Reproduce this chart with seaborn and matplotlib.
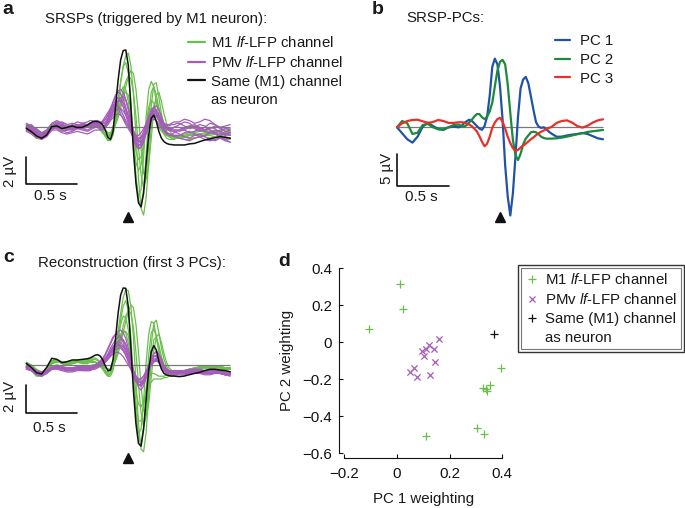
import numpy as np
import pandas as pd
import seaborn as sns
import matplotlib.pyplot as plt
from matplotlib.lines import Line2D
from matplotlib.patches import Rectangle

sns.set_style("white")
plt.rcParams["font.family"] = ["Liberation Sans", "DejaVu Sans"]
plt.rcParams["mathtext.fontset"] = "custom"
plt.rcParams["mathtext.rm"] = "Liberation Sans"
plt.rcParams["mathtext.it"] = "Liberation Sans:italic"
plt.rcParams["text.color"] = "#1a1a1a"
plt.rcParams["axes.labelcolor"] = "#1a1a1a"

W, H = 685, 508
FS = 10.8

GREEN = "#6abf4b"
PURPLE = "#a65cba"
BLACK = "#111111"
ZERO = "#7a7a7a"
PC_COLORS = ["#2153a5", "#1a8a3c", "#e8302a"]

# sample times (s) relative to the trigger spike
T = [-1.0, -0.95, -0.9, -0.85, -0.8, -0.75, -0.7, -0.65, -0.6, -0.55, -0.5, -0.45, -0.4,
     -0.375, -0.35, -0.325, -0.3, -0.275, -0.25, -0.225, -0.2, -0.175, -0.15, -0.125, -0.1, -0.075, -0.05, -0.025,
     0.0, 0.025, 0.05, 0.075, 0.1, 0.125, 0.15, 0.175, 0.2, 0.225, 0.25, 0.275, 0.3, 0.325, 0.35, 0.375, 0.4, 0.425, 0.45, 0.475,
     0.5, 0.55, 0.6, 0.65, 0.7, 0.75, 0.8, 0.85, 0.9, 0.95, 1.0]

# ---- panel a: spike-related slow potentials (uV)
M1_A = [
    [0.1, -0.1, -0.5, -0.7, -0.4, 0.1, 0.2, 0.0, -0.1, 0.05, 0.1, 0.0, 0.1]
    + [0.2, 0.3, 0.3, 0.2, 0.0, -0.3, -0.6, -0.8, -0.6, 0.0, 0.9, 2.0, 3.3, 4.5, 5.3, 5.5, 4.6, 2.5, -0.5, -3.8, -6.0, -6.5, -5.2, -2.6, 0.0, 1.6, 2.0, 1.4, 0.6, 0.0, -0.4, -0.6, -0.7, -0.7, -0.7]
    + [-0.7, -0.7, -0.6, -0.6, -0.5, -0.5, -0.4, -0.4, -0.5, -0.5, -0.6],
    [-0.1, -0.4, -0.8, -0.9, -0.6, -0.1, 0.1, -0.1, -0.2, 0.0, 0.1, 0.1, 0.2]
    + [0.3, 0.4, 0.4, 0.3, 0.1, -0.2, -0.5, -0.9, -1.0, -0.6, 0.4, 1.8, 3.4, 4.5, 4.8, 4.0, 2.0, -1.0, -3.8, -5.2, -4.6, -2.2, 0.8, 2.8, 3.4, 3.0, 1.9, 0.8, 0.0, -0.5, -0.8, -0.9, -0.9, -0.9, -0.8]
    + [-0.8, -0.7, -0.6, -0.5, -0.5, -0.4, -0.4, -0.3, -0.3, -0.4, -0.4],
    [0.0, -0.2, -0.6, -0.6, -0.3, 0.2, 0.3, 0.1, 0.0, 0.1, 0.2, 0.1, 0.2]
    + [0.3, 0.3, 0.2, 0.1, 0.0, -0.1, -0.3, -0.5, -0.5, -0.2, 0.3, 1.0, 1.8, 2.7, 3.4, 3.8, 3.6, 2.6, 0.8, -1.5, -3.5, -4.5, -3.8, -1.4, 1.5, 3.2, 3.3, 2.2, 1.0, 0.2, -0.3, -0.5, -0.6, -0.7, -0.7]
    + [-0.7, -0.7, -0.8, -0.8, -0.7, -0.6, -0.6, -0.7, -0.8, -0.8, -0.9],
    [0.2, 0.0, -0.4, -0.5, -0.2, 0.2, 0.2, -0.1, -0.2, 0.0, 0.0, -0.1, 0.0]
    + [0.1, 0.2, 0.2, 0.1, -0.1, -0.4, -0.7, -1.0, -0.9, -0.4, 0.5, 1.6, 2.6, 3.0, 2.8, 1.9, 0.5, -1.2, -2.6, -3.2, -2.8, -1.5, 0.2, 1.5, 2.0, 1.8, 1.1, 0.4, -0.1, -0.4, -0.6, -0.7, -0.8, -0.8, -0.8]
    + [-0.8, -0.7, -0.6, -0.5, -0.6, -0.7, -0.8, -0.7, -0.6, -0.5, -0.6],
    [-0.2, -0.3, -0.7, -0.8, -0.5, 0.0, 0.2, 0.1, -0.1, -0.1, 0.0, 0.0, 0.1]
    + [0.2, 0.2, 0.1, 0.0, -0.2, -0.4, -0.6, -0.7, -0.5, 0.0, 0.6, 1.3, 2.0, 2.4, 2.6, 2.4, 1.2, -1.0, -3.6, -5.4, -5.8, -4.6, -2.0, 0.8, 2.6, 3.0, 2.4, 1.4, 0.5, -0.1, -0.5, -0.7, -0.8, -0.8, -0.8]
    + [-0.8, -0.9, -0.9, -0.8, -0.7, -0.6, -0.5, -0.5, -0.6, -0.7, -0.8],
    [0.1, 0.1, -0.3, -0.5, -0.3, 0.0, 0.1, 0.2, 0.1, 0.0, -0.1, 0.0, 0.1]
    + [0.2, 0.2, 0.2, 0.1, 0.0, -0.1, -0.2, -0.4, -0.4, -0.2, 0.2, 0.7, 1.4, 2.2, 3.0, 3.7, 4.2, 4.0, 2.8, 0.8, -1.6, -3.4, -3.8, -2.8, -0.8, 1.2, 2.4, 2.6, 1.9, 1.0, 0.3, -0.2, -0.5, -0.6, -0.7]
    + [-0.7, -0.6, -0.5, -0.3, -0.2, -0.2, -0.3, -0.3, -0.2, -0.1, -0.1],
    [0.0, -0.2, -0.5, -0.7, -0.4, 0.0, 0.1, -0.1, -0.1, 0.1, 0.2, 0.1, 0.1]
    + [0.1, 0.1, 0.1, 0.0, -0.2, -0.4, -0.6, -0.7, -0.5, -0.1, 0.5, 1.2, 1.7, 2.0, 2.0, 1.5, 0.6, -0.6, -1.8, -2.4, -2.2, -1.2, 0.2, 1.2, 1.4, 1.1, 0.5, 0.0, -0.3, -0.5, -0.6, -0.6, -0.6, -0.6, -0.6]
    + [-0.6, -0.5, -0.4, -0.4, -0.3, -0.3, -0.4, -0.5, -0.5, -0.4, -0.3],
]
PMV_A = [
    [0.2, 0.0, -0.4, -0.6, -0.3, 0.2, 0.4, 0.2, 0.0, 0.2, 0.4, 0.3, 0.2]
    + [0.3, 0.4, 0.5, 0.5, 0.4, 0.3, 0.4, 0.7, 1.2, 1.8, 2.3, 2.7, 2.8, 2.6, 2.1, 1.3, 0.4, -0.4, -1.0, -1.3, -1.2, -0.7, 0.1, 0.8, 1.3, 1.5, 1.3, 0.8, 0.3, 0.0, -0.2, -0.2, -0.1, 0.0, 0.1]
    + [0.2, 0.4, 0.3, 0.0, -0.2, 0.0, 0.3, 0.2, -0.1, -0.3, -0.2],
    [-0.1, -0.3, -0.7, -0.8, -0.5, -0.1, 0.0, -0.2, -0.4, -0.3, -0.1, -0.2, -0.3]
    + [-0.2, -0.1, 0.0, 0.0, -0.1, -0.2, 0.0, 0.4, 0.9, 1.4, 1.8, 2.0, 1.9, 1.5, 0.9, 0.3, -0.3, -0.8, -1.2, -1.4, -1.3, -0.9, -0.3, 0.3, 0.7, 0.9, 0.8, 0.5, 0.1, -0.2, -0.4, -0.5, -0.5, -0.4, -0.4]
    + [-0.5, -0.7, -0.8, -0.6, -0.5, -0.7, -0.9, -1.0, -0.8, -0.9, -1.1],
    [0.1, 0.2, -0.2, -0.4, -0.2, 0.3, 0.5, 0.3, 0.2, 0.3, 0.2, 0.0, 0.1]
    + [0.2, 0.3, 0.4, 0.3, 0.2, 0.1, 0.1, 0.3, 0.6, 0.9, 1.2, 1.4, 1.4, 1.2, 0.9, 0.5, 0.1, -0.3, -0.6, -0.8, -0.8, -0.5, -0.1, 0.4, 0.8, 1.0, 1.0, 0.8, 0.5, 0.3, 0.2, 0.2, 0.3, 0.4, 0.4]
    + [0.4, 0.6, 0.5, 0.3, 0.4, 0.6, 0.5, 0.2, 0.0, 0.1, 0.2],
    [-0.3, -0.5, -0.8, -0.7, -0.3, 0.0, -0.1, -0.3, -0.2, 0.0, 0.1, -0.1, -0.2]
    + [-0.1, 0.0, 0.1, 0.1, 0.0, 0.0, 0.2, 0.6, 1.1, 1.6, 2.0, 2.2, 2.1, 1.8, 1.2, 0.5, -0.2, -0.9, -1.4, -1.6, -1.5, -1.0, -0.3, 0.4, 1.0, 1.2, 1.1, 0.7, 0.2, -0.2, -0.4, -0.5, -0.6, -0.6, -0.6]
    + [-0.6, -0.4, -0.3, -0.5, -0.7, -0.6, -0.4, -0.5, -0.7, -0.9, -0.8],
    [0.3, 0.1, -0.3, -0.5, -0.4, 0.0, 0.3, 0.4, 0.2, 0.0, 0.1, 0.3, 0.4]
    + [0.5, 0.5, 0.4, 0.3, 0.3, 0.4, 0.6, 0.9, 1.3, 1.6, 1.7, 1.6, 1.3, 0.9, 0.5, 0.1, -0.2, -0.5, -0.6, -0.6, -0.4, -0.1, 0.3, 0.7, 1.0, 1.1, 1.0, 0.7, 0.4, 0.2, 0.1, 0.1, 0.2, 0.2, 0.3]
    + [0.3, 0.1, -0.1, 0.0, 0.2, 0.1, -0.2, -0.4, -0.3, -0.1, -0.2],
    [0.0, -0.2, -0.6, -0.9, -0.7, -0.2, 0.1, 0.0, -0.2, -0.2, 0.0, 0.1, 0.0]
    + [0.0, 0.1, 0.2, 0.2, 0.1, 0.1, 0.2, 0.4, 0.7, 1.1, 1.5, 1.9, 2.2, 2.3, 2.0, 1.4, 0.6, -0.2, -0.8, -1.1, -1.1, -0.8, -0.2, 0.5, 1.1, 1.5, 1.6, 1.3, 0.8, 0.3, 0.0, -0.2, -0.3, -0.3, -0.3]
    + [-0.2, 0.0, 0.1, -0.1, -0.3, -0.2, 0.0, -0.1, -0.4, -0.6, -0.5],
    [-0.2, -0.4, -0.5, -0.6, -0.4, -0.2, -0.2, -0.4, -0.5, -0.4, -0.3, -0.4, -0.5]
    + [-0.4, -0.3, -0.2, -0.2, -0.2, -0.1, 0.0, 0.2, 0.5, 0.7, 0.9, 1.0, 0.9, 0.7, 0.4, 0.1, -0.2, -0.6, -0.9, -1.0, -0.9, -0.6, -0.2, 0.2, 0.5, 0.6, 0.5, 0.2, -0.1, -0.3, -0.5, -0.6, -0.6, -0.7, -0.7]
    + [-0.8, -0.9, -1.0, -0.8, -0.7, -0.9, -1.0, -0.9, -0.8, -1.0, -1.1],
    [0.1, -0.1, -0.5, -0.7, -0.5, 0.0, 0.2, 0.1, -0.1, 0.0, 0.2, 0.2, 0.1]
    + [0.1, 0.2, 0.3, 0.3, 0.3, 0.4, 0.6, 0.9, 1.4, 1.9, 2.4, 2.6, 2.5, 2.1, 1.5, 0.8, 0.0, -0.7, -1.2, -1.5, -1.5, -1.1, -0.4, 0.3, 0.9, 1.2, 1.2, 0.9, 0.5, 0.1, -0.1, -0.2, -0.2, -0.2, -0.2]
    + [-0.3, -0.2, 0.0, 0.1, -0.1, -0.3, -0.4, -0.2, -0.3, -0.5, -0.6],
    [-0.2, -0.3, -0.6, -0.8, -0.6, -0.2, 0.1, 0.2, 0.0, -0.2, -0.1, 0.0, 0.1]
    + [0.2, 0.2, 0.2, 0.2, 0.3, 0.5, 0.8, 1.1, 1.4, 1.6, 1.6, 1.4, 1.0, 0.6, 0.2, -0.1, -0.4, -0.7, -0.9, -0.9, -0.7, -0.3, 0.2, 0.7, 1.1, 1.3, 1.2, 0.9, 0.5, 0.2, 0.0, -0.1, -0.1, 0.0, 0.0]
    + [0.0, -0.2, -0.4, -0.3, -0.1, 0.0, -0.2, -0.4, -0.6, -0.5, -0.4],
    [0.0, 0.1, -0.1, -0.4, -0.4, -0.1, 0.2, 0.1, -0.1, -0.1, 0.1, 0.2, 0.2]
    + [0.1, 0.0, 0.0, 0.1, 0.2, 0.3, 0.3, 0.5, 0.8, 1.2, 1.6, 1.9, 2.0, 1.8, 1.4, 0.9, 0.3, -0.3, -0.7, -1.0, -1.1, -0.9, -0.5, 0.0, 0.5, 0.8, 0.9, 0.8, 0.5, 0.2, 0.0, -0.1, -0.2, -0.2, -0.2]
    + [-0.2, -0.1, 0.1, 0.2, 0.0, -0.2, -0.1, 0.1, 0.0, -0.3, -0.4],
]
SAME_A = ([-0.07, -0.32, -0.64, -0.81, -0.57, 0.05, 0.1, -0.1, 0.0, 0.1, -0.02, 0.0, 0.17]
          + [0.3, 0.4, 0.44, 0.42, 0.35, 0.17, -0.2, -0.74, -0.89, -0.32, 1.53, 3.5, 5.0, 5.68, 5.73, 4.6, 1.53, -1.68, -4.15, -5.6, -5.9, -4.9, -2.67, -0.57, 0.67, 0.91, 0.42, -0.32, -0.81, -1.06, -1.19, -1.26, -1.28, -1.31, -1.31]
          + [-1.31, -1.31, -1.23, -1.19, -1.06, -0.94, -0.86, -0.77, -0.69, -0.74, -0.81])

# ---- panel b: principal components (uV)
PC1 = ([0.0, -0.95, -1.9, -2.43, -1.48, 0.1, 0.74, 0.2, -0.26, -0.42, 0.0, 0.1, 0.0]
       + [0.2, 0.63, 0.95, 1.2, 1.05, 0.63, 0.2, -0.2, -0.4, 0.2, 1.7, 5.0, 9.6, 10.9, 10.0, 6.5, 1.2, -6.0, -11.0, -14.0, -10.5, -4.7, 1.7, 6.2, 7.6, 8.0, 7.0, 4.9, 2.75, 0.8, 0.1, -0.1, 0.0, -0.3, -0.7]
       + [-1.0, -1.5, -1.48, -1.3, -1.16, -1.06, -0.9, -1.06, -1.4, -1.75, -1.9])
PC2 = ([0.0, 1.0, 0.63, -1.06, -0.85, 0.37, 0.53, 0.0, -0.32, -0.32, 0.0, 0.37, 0.42]
       + [0.2, 0.1, 0.32, 0.74, 1.16, 1.7, 2.1, 2.1, 1.6, 1.3, 1.7, 2.5, 3.9, 6.5, 9.0, 10.4, 10.7, 10.0, 6.8, 2.3, -2.0, -4.4, -5.2, -4.2, -2.7, -1.8, -1.3, -0.8, -0.7, -0.8, -1.1, -1.5, -1.7, -1.8, -1.8]
       + [-1.8, -1.75, -1.64, -1.48, -1.3, -1.1, -0.95, -0.74, -0.63, -0.53, -0.42])
PC3 = ([0.0, 0.63, 1.0, 1.16, 1.2, 0.95, 0.7, 0.85, 1.16, 1.0, 0.7, 0.7, 0.8]
       + [0.8, 0.75, 0.6, 0.45, 0.2, -0.2, -0.65, -1.4, -2.3, -3.0, -2.6, -1.5, -0.1, 0.75, 1.3, 1.5, 0.9, -0.2, -1.5, -2.5, -3.3, -3.75, -3.6, -3.2, -2.9, -2.6, -2.25, -1.9, -1.6, -1.25, -0.95, -0.7, -0.5, -0.3, -0.1]
       + [0.05, 0.7, 1.0, 1.1, 0.75, 0.2, -0.05, 0.25, 0.75, 1.1, 1.27])
PC_NAMES = ["PC 1", "PC 2", "PC 3"]

# ---- panel c: reconstruction from first 3 PCs (uV)
M1_C = [
    [0.1, -0.2, -0.6, -0.7, -0.3, 0.3, 0.4, 0.2, 0.2, 0.3, 0.3, 0.3, 0.4]
    + [0.4, 0.5, 0.5, 0.4, 0.2, -0.1, -0.4, -0.5, -0.3, 0.3, 1.2, 2.4, 3.7, 4.8, 5.4, 5.3, 4.2, 2.0, -1.2, -4.2, -6.0, -6.2, -4.8, -2.2, 0.4, 1.8, 2.0, 1.4, 0.6, 0.0, -0.3, -0.5, -0.5, -0.5, -0.5]
    + [-0.5, -0.4, -0.3, -0.2, -0.2, -0.1, -0.1, -0.1, -0.1, -0.2, -0.2],
    [-0.1, -0.4, -0.8, -0.8, -0.4, 0.2, 0.3, 0.1, 0.0, 0.1, 0.2, 0.2, 0.3]
    + [0.3, 0.4, 0.4, 0.3, 0.1, -0.2, -0.5, -0.8, -0.8, -0.4, 0.5, 1.8, 3.2, 4.2, 4.6, 3.9, 2.0, -0.8, -3.4, -4.9, -4.6, -2.6, 0.2, 2.2, 3.1, 3.0, 2.0, 0.9, 0.1, -0.4, -0.6, -0.7, -0.7, -0.6, -0.6]
    + [-0.6, -0.5, -0.4, -0.3, -0.3, -0.2, -0.2, -0.2, -0.3, -0.3, -0.3],
    [0.0, -0.2, -0.5, -0.6, -0.2, 0.3, 0.3, 0.1, 0.1, 0.2, 0.3, 0.2, 0.3]
    + [0.3, 0.3, 0.2, 0.1, 0.0, -0.1, -0.2, -0.3, -0.3, -0.1, 0.4, 1.1, 1.9, 2.8, 3.5, 3.9, 3.7, 2.7, 0.9, -1.4, -3.4, -4.4, -3.7, -1.4, 1.4, 3.0, 3.2, 2.3, 1.2, 0.4, -0.1, -0.4, -0.5, -0.5, -0.5]
    + [-0.5, -0.5, -0.4, -0.3, -0.3, -0.2, -0.2, -0.2, -0.2, -0.3, -0.3],
    [0.2, 0.0, -0.4, -0.6, -0.3, 0.2, 0.3, 0.1, 0.0, 0.1, 0.2, 0.1, 0.1]
    + [0.2, 0.2, 0.2, 0.1, 0.0, -0.2, -0.5, -0.7, -0.6, -0.2, 0.6, 1.5, 2.2, 2.5, 2.3, 1.6, 0.6, -0.6, -1.9, -2.8, -3.0, -2.6, -2.0, -1.5, -1.2, -1.0, -1.0, -1.0, -1.0, -0.9, -0.9, -0.8, -0.8, -0.7, -0.7]
    + [-0.6, -0.5, -0.4, -0.3, -0.2, -0.2, -0.1, -0.1, -0.1, -0.2, -0.2],
    [-0.2, -0.4, -0.7, -0.7, -0.4, 0.1, 0.3, 0.2, 0.1, 0.1, 0.2, 0.2, 0.3]
    + [0.3, 0.3, 0.2, 0.1, -0.1, -0.3, -0.5, -0.6, -0.4, 0.1, 0.7, 1.4, 2.0, 2.3, 2.4, 2.1, 1.0, -1.2, -3.6, -5.2, -5.6, -4.4, -1.9, 0.7, 2.3, 2.6, 2.0, 1.1, 0.3, -0.2, -0.5, -0.6, -0.6, -0.6, -0.6]
    + [-0.6, -0.5, -0.4, -0.3, -0.3, -0.2, -0.2, -0.2, -0.2, -0.3, -0.3],
    [0.1, 0.0, -0.3, -0.5, -0.3, 0.1, 0.2, 0.2, 0.2, 0.2, 0.2, 0.2, 0.2]
    + [0.2, 0.2, 0.2, 0.1, 0.0, -0.1, -0.2, -0.3, -0.3, -0.1, 0.3, 0.8, 1.5, 2.3, 3.1, 3.8, 4.3, 4.1, 2.9, 0.9, -1.5, -3.2, -3.6, -2.8, -0.9, 1.0, 2.0, 2.2, 1.6, 0.8, 0.2, -0.2, -0.4, -0.5, -0.5]
    + [-0.5, -0.4, -0.3, -0.2, -0.1, -0.1, -0.1, -0.1, -0.1, -0.2, -0.2],
    [0.0, -0.3, -0.6, -0.7, -0.4, 0.1, 0.3, 0.2, 0.1, 0.2, 0.3, 0.2, 0.2]
    + [0.2, 0.2, 0.2, 0.1, -0.1, -0.3, -0.6, -0.8, -0.6, -0.1, 0.7, 1.8, 2.9, 3.5, 3.4, 2.5, 1.0, -0.9, -2.8, -4.0, -4.0, -3.0, -1.7, -0.9, -0.6, -0.6, -0.7, -0.8, -0.8, -0.8, -0.7, -0.7, -0.6, -0.6, -0.6]
    + [-0.5, -0.4, -0.3, -0.3, -0.2, -0.2, -0.2, -0.2, -0.2, -0.2, -0.3],
]
PMV_C = [
    [-0.1, -0.3, -0.6, -0.7, -0.5, -0.2, -0.1, -0.2, -0.3, -0.3, -0.2, -0.2, -0.2]
    + [-0.2, -0.1, 0.0, 0.1, 0.2, 0.4, 0.7, 1.1, 1.5, 1.9, 2.2, 2.4, 2.5, 2.3, 1.9, 1.2, 0.4, -0.4, -1.1, -1.6, -1.8, -1.5, -0.9, -0.2, 0.4, 0.8, 0.9, 0.7, 0.3, -0.1, -0.3, -0.4, -0.5, -0.5, -0.5]
    + [-0.5, -0.6, -0.6, -0.5, -0.5, -0.5, -0.6, -0.6, -0.6, -0.7, -0.7],
    [-0.2, -0.3, -0.5, -0.6, -0.5, -0.3, -0.2, -0.3, -0.4, -0.4, -0.3, -0.3, -0.3]
    + [-0.3, -0.2, -0.1, 0.0, 0.1, 0.3, 0.5, 0.8, 1.2, 1.5, 1.8, 2.0, 2.0, 1.8, 1.4, 0.8, 0.2, -0.4, -0.9, -1.2, -1.3, -1.1, -0.6, -0.1, 0.3, 0.6, 0.6, 0.4, 0.1, -0.2, -0.4, -0.5, -0.5, -0.5, -0.5]
    + [-0.5, -0.5, -0.4, -0.4, -0.5, -0.5, -0.4, -0.4, -0.5, -0.6, -0.6],
    [0.0, -0.2, -0.5, -0.6, -0.4, -0.1, 0.0, -0.1, -0.2, -0.2, -0.1, -0.1, -0.1]
    + [-0.1, 0.0, 0.0, 0.1, 0.2, 0.3, 0.5, 0.7, 1.0, 1.3, 1.5, 1.6, 1.6, 1.4, 1.1, 0.6, 0.1, -0.4, -0.8, -1.0, -1.0, -0.8, -0.4, 0.0, 0.4, 0.6, 0.7, 0.5, 0.2, -0.1, -0.3, -0.4, -0.4, -0.4, -0.4]
    + [-0.4, -0.4, -0.3, -0.3, -0.4, -0.4, -0.3, -0.3, -0.4, -0.5, -0.5],
    [-0.3, -0.4, -0.7, -0.8, -0.6, -0.3, -0.2, -0.3, -0.4, -0.4, -0.3, -0.4, -0.4]
    + [-0.4, -0.3, -0.3, -0.2, -0.1, 0.0, 0.2, 0.4, 0.7, 0.9, 1.1, 1.2, 1.2, 1.0, 0.7, 0.3, -0.1, -0.6, -1.1, -1.4, -1.5, -1.3, -0.9, -0.4, 0.0, 0.3, 0.4, 0.2, -0.1, -0.4, -0.6, -0.6, -0.7, -0.7, -0.7]
    + [-0.7, -0.7, -0.6, -0.6, -0.6, -0.7, -0.7, -0.6, -0.6, -0.7, -0.8],
    [-0.1, -0.2, -0.4, -0.5, -0.4, -0.2, -0.1, -0.2, -0.2, -0.2, -0.2, -0.2, -0.2]
    + [-0.2, -0.2, -0.1, 0.0, 0.0, 0.1, 0.2, 0.4, 0.6, 0.8, 0.9, 0.9, 0.8, 0.6, 0.3, 0.0, -0.3, -0.6, -0.9, -1.0, -1.0, -0.8, -0.5, -0.2, 0.1, 0.3, 0.3, 0.2, 0.0, -0.2, -0.3, -0.4, -0.4, -0.4, -0.4]
    + [-0.4, -0.4, -0.4, -0.3, -0.3, -0.4, -0.4, -0.4, -0.4, -0.5, -0.5],
    [-0.2, -0.4, -0.6, -0.7, -0.5, -0.2, -0.1, -0.2, -0.3, -0.3, -0.2, -0.2, -0.2]
    + [-0.2, -0.1, 0.0, 0.1, 0.2, 0.3, 0.4, 0.6, 0.9, 1.2, 1.5, 1.7, 1.8, 1.8, 1.5, 1.0, 0.3, -0.4, -1.0, -1.4, -1.5, -1.3, -0.8, -0.2, 0.4, 0.8, 1.0, 0.8, 0.4, 0.0, -0.3, -0.5, -0.5, -0.6, -0.6]
    + [-0.6, -0.6, -0.5, -0.5, -0.5, -0.6, -0.6, -0.5, -0.5, -0.6, -0.7],
    [-0.3, -0.4, -0.6, -0.6, -0.5, -0.3, -0.3, -0.4, -0.5, -0.5, -0.4, -0.4, -0.4]
    + [-0.4, -0.3, -0.2, -0.1, 0.0, 0.2, 0.4, 0.7, 1.0, 1.3, 1.5, 1.5, 1.4, 1.1, 0.7, 0.2, -0.3, -0.8, -1.2, -1.4, -1.4, -1.1, -0.7, -0.3, 0.1, 0.3, 0.4, 0.2, -0.1, -0.3, -0.5, -0.6, -0.6, -0.6, -0.6]
    + [-0.6, -0.6, -0.5, -0.5, -0.6, -0.6, -0.6, -0.5, -0.6, -0.7, -0.7],
    [-0.2, -0.3, -0.6, -0.7, -0.5, -0.3, -0.2, -0.3, -0.3, -0.3, -0.3, -0.3, -0.3]
    + [-0.2, -0.1, 0.0, 0.1, 0.3, 0.5, 0.8, 1.2, 1.6, 2.0, 2.2, 2.2, 2.0, 1.6, 1.1, 0.5, -0.1, -0.6, -1.1, -1.4, -1.5, -1.2, -0.7, -0.2, 0.3, 0.6, 0.7, 0.5, 0.2, -0.1, -0.3, -0.4, -0.5, -0.5, -0.5]
    + [-0.5, -0.5, -0.5, -0.4, -0.4, -0.5, -0.5, -0.5, -0.5, -0.6, -0.6],
    [-0.1, -0.3, -0.5, -0.6, -0.5, -0.2, -0.1, -0.2, -0.3, -0.3, -0.2, -0.2, -0.3]
    + [-0.3, -0.2, -0.2, -0.1, 0.0, 0.2, 0.3, 0.5, 0.8, 1.0, 1.3, 1.4, 1.4, 1.3, 1.0, 0.6, 0.1, -0.4, -0.8, -1.1, -1.2, -1.0, -0.6, -0.2, 0.2, 0.4, 0.5, 0.4, 0.1, -0.2, -0.4, -0.5, -0.5, -0.5, -0.5]
    + [-0.5, -0.5, -0.5, -0.5, -0.5, -0.5, -0.5, -0.5, -0.5, -0.6, -0.6],
    [-0.2, -0.4, -0.6, -0.8, -0.6, -0.3, -0.2, -0.3, -0.4, -0.4, -0.3, -0.3, -0.3]
    + [-0.3, -0.2, -0.1, 0.0, 0.1, 0.2, 0.4, 0.6, 0.9, 1.1, 1.3, 1.4, 1.3, 1.1, 0.8, 0.4, -0.1, -0.5, -0.9, -1.2, -1.3, -1.2, -0.8, -0.4, 0.0, 0.2, 0.3, 0.2, 0.0, -0.2, -0.4, -0.5, -0.6, -0.6, -0.6]
    + [-0.6, -0.6, -0.6, -0.5, -0.5, -0.6, -0.6, -0.6, -0.6, -0.7, -0.7],
]
SAME_C = ([0.12, -0.17, -0.55, -0.64, -0.17, 0.48, 0.4, 0.17, 0.24, 0.36, 0.36, 0.4, 0.45]
          + [0.5, 0.6, 0.7, 0.74, 0.64, 0.36, -0.07, -0.4, -0.36, 0.36, 1.9, 3.7, 5.0, 5.5, 5.48, 4.17, 1.3, -1.8, -4.2, -5.6, -5.8, -4.6, -2.5, -0.36, 0.95, 1.38, 1.07, 0.24, -0.3, -0.6, -0.71, -0.76, -0.79, -0.79, -0.81]
          + [-0.83, -0.79, -0.69, -0.6, -0.52, -0.4, -0.31, -0.31, -0.36, -0.4, -0.48])

# ---- panel d: PC weightings per channel
M1_W1 = [0.012, 0.025, -0.104, 0.395, 0.354, 0.327, 0.337, 0.342, 0.304, 0.329, 0.111]
M1_W2 = [0.316, 0.18, 0.072, -0.14, -0.229, -0.245, -0.252, -0.265, -0.463, -0.495, -0.508]
PMV_W1 = [0.161, 0.124, 0.142, 0.109, 0.097, 0.105, 0.145, 0.067, 0.05, 0.078, 0.127]
PMV_W2 = [0.018, -0.014, -0.036, -0.038, -0.049, -0.072, -0.108, -0.139, -0.162, -0.185, -0.176]
SAME_W1 = [0.37]
SAME_W2 = [0.045]

LABELS = [r"M1 $\mathit{lf}$-LFP channel", r"PMv $\mathit{lf}$-LFP channel",
          "Same (M1) channel", "as neuron"]


def px_axes(fig, box, x0, sx, y0, sy):
    # box in pixels (left, top, right, bottom); x0/y0 = pixel of data origin, sx/sy = px per unit
    l, t, r, b = box
    ax = fig.add_axes([l / W, 1 - b / H, (r - l) / W, (b - t) / H])
    ax.axis("off")
    lims = ((l - x0) / sx, (r - x0) / sx, (y0 - b) / sy, (y0 - t) / sy)
    return ax, lims


def ftext(fig, x, y, s, **kw):
    kw.setdefault("fontsize", FS)
    kw.setdefault("va", "center")
    fig.text(x / W, 1 - y / H, s, **kw)


def long_frame(traces, group):
    parts = [pd.DataFrame({"t": T, "v": tr, "channel": f"{group}{i}"}) for i, tr in enumerate(traces)]
    return pd.concat(parts, ignore_index=True)


def draw_srsp(ax, lims, m1, pmv, same, bar_v, tri_v):
    sns.lineplot(data=long_frame(m1, "m1"), x="t", y="v", units="channel", estimator=None,
                 color=GREEN, lw=0.9, ax=ax, legend=False)
    sns.lineplot(data=long_frame(pmv, "pmv"), x="t", y="v", units="channel", estimator=None,
                 color=PURPLE, lw=0.9, ax=ax, legend=False)
    ax.hlines(0, T[0], T[-1], color=ZERO, lw=0.9, zorder=3)
    sns.lineplot(x=T, y=same, color=BLACK, lw=1.1, ax=ax, zorder=4)
    # scale bars: 0.5 s, 2 uV
    ax.plot([-1.0, -1.0, -0.5], [bar_v + 2, bar_v, bar_v], color=BLACK, lw=1.2, clip_on=False)
    ax.plot([0.0], [tri_v], marker="^", color=BLACK, markersize=7.5, clip_on=False)
    ax.set_xlim(lims[0], lims[1])
    ax.set_ylim(lims[2], lims[3])
    ax.axis("off")


def srsp_legend(ax, x, y):
    handles = [Line2D([], [], color=GREEN, lw=1.6), Line2D([], [], color=PURPLE, lw=1.6),
               Line2D([], [], color=BLACK, lw=1.6), Line2D([], [], ls="none")]
    ax.legend(handles, LABELS, loc="upper left", bbox_to_anchor=(x / W, 1 - y / H),
              bbox_transform=ax.figure.transFigure, frameon=False, fontsize=FS,
              handlelength=1.15, handletextpad=0.4, labelspacing=0.32,
              borderpad=0, borderaxespad=0)


fig = plt.figure(figsize=(W / 100, H / 100), dpi=100)

# panel a
ax_a, lim_a = px_axes(fig, (0, 30, 245, 232), 128.3, 102, 127.3, 13.5)
draw_srsp(ax_a, lim_a, M1_A, PMV_A, SAME_A, -4.2, -6.64)
srsp_legend(ax_a, 188, 35)
ftext(fig, 8, 9, "a", fontsize=14, fontweight="bold", ha="center")
ftext(fig, 45, 19, "SRSPs (triggered by M1 neuron):")
ftext(fig, 50.5, 195.5, "0.5 s", ha="center")
ftext(fig, 10, 171, "2 µV", ha="center", rotation=90)

# panel b
ax_b, lim_b = px_axes(fig, (345, 30, 615, 232), 500, 103, 127.3, 6.3)
ax_b.hlines(0, T[0], T[-1], color=ZERO, lw=0.9, zorder=1)
for vals, name, col in zip([PC1, PC2, PC3], PC_NAMES, PC_COLORS):
    sns.lineplot(x=T, y=vals, color=col, lw=1.6, ax=ax_b, label=name, zorder=2)
ax_b.plot([-1.0, -1.0, -0.5], [-9.3 + 5, -9.3, -9.3], color=BLACK, lw=1.2, clip_on=False)
ax_b.plot([0.0], [-14.3], marker="^", color=BLACK, markersize=7.5, clip_on=False)
ax_b.set_xlim(lim_b[0], lim_b[1])
ax_b.set_ylim(lim_b[2], lim_b[3])
ax_b.axis("off")
ax_b.legend(loc="upper left", bbox_to_anchor=(555 / W, 1 - 34 / H), bbox_transform=fig.transFigure,
            frameon=False, fontsize=FS, handlelength=1.0, handletextpad=0.65, labelspacing=0.32,
            borderpad=0, borderaxespad=0)
ftext(fig, 378, 10, "b", fontsize=14, fontweight="bold", ha="center")
ftext(fig, 406.7, 18, "SRSP-PCs:")
ftext(fig, 421.7, 196.7, "0.5 s", ha="center")
ftext(fig, 386.5, 168, "5 µV", ha="center", rotation=90)

# panel c
ax_c, lim_c = px_axes(fig, (0, 272, 245, 472), 128.3, 102, 365, 14)
draw_srsp(ax_c, lim_c, M1_C, PMV_C, SAME_C, -3.45, -6.64)
ftext(fig, 9, 258, "c", fontsize=14, fontweight="bold", ha="center")
ftext(fig, 38.3, 263, "Reconstruction (first 3 PCs):")
ftext(fig, 49, 428, "0.5 s", ha="center")
ftext(fig, 10, 396, "2 µV", ha="center", rotation=90)

# panel d
ax_d = fig.add_axes([344 / W, 1 - 453.3 / H, (502.3 - 344) / W, (453.3 - 268.3) / H])
sns.scatterplot(x=PMV_W1, y=PMV_W2, marker="x", color=PURPLE, s=20, linewidth=0.9, ax=ax_d, clip_on=False)
sns.scatterplot(x=M1_W1, y=M1_W2, marker="+", color=GREEN, s=30, linewidth=0.9, ax=ax_d, clip_on=False)
sns.scatterplot(x=SAME_W1, y=SAME_W2, marker="+", color=BLACK, s=30, linewidth=0.9, ax=ax_d, clip_on=False)
ax_d.set_xlim(-0.2, 0.4)
ax_d.set_ylim(-0.6, 0.4)
ax_d.set_xticks([-0.2, 0, 0.2, 0.4])
ax_d.set_yticks([-0.6, -0.4, -0.2, 0, 0.2, 0.4])
ax_d.set_xticklabels(["−0.2", "0", "0.2", "0.4"])
ax_d.set_yticklabels(["−0.6", "−0.4", "−0.2", "0", "0.2", "0.4"])
sns.despine(ax=ax_d, offset=3.6, trim=True)
for sp in ("left", "bottom"):
    ax_d.spines[sp].set_color(BLACK)
    ax_d.spines[sp].set_linewidth(0.8)
ax_d.tick_params(axis="both", direction="in", length=3, width=0.8, colors=BLACK,
                 labelsize=FS, bottom=True, left=True)
ax_d.tick_params(axis="x", pad=6)
ax_d.tick_params(axis="y", pad=5)
ax_d.set_xlabel("PC 1 weighting", fontsize=FS, labelpad=8)
ax_d.set_ylabel("PC 2 weighting", fontsize=FS, labelpad=6)
d_handles = [Line2D([], [], ls="none", marker="+", color=GREEN, markersize=6, mew=0.9),
             Line2D([], [], ls="none", marker="x", color=PURPLE, markersize=5, mew=0.9),
             Line2D([], [], ls="none", marker="+", color=BLACK, markersize=6, mew=0.9),
             Line2D([], [], ls="none")]
leg = ax_d.legend(d_handles, LABELS, loc="upper left", bbox_to_anchor=(518.3 / W, 1 - 265 / H),
                  bbox_transform=fig.transFigure, fontsize=FS, frameon=True, fancybox=False,
                  edgecolor="#333333", framealpha=1, borderpad=0.5, borderaxespad=0,
                  handlelength=0.8, handletextpad=0.45, labelspacing=0.32)
leg.get_frame().set_linewidth(1.0)
ftext(fig, 284, 262, "d", fontsize=14, fontweight="bold", ha="center")

# inner line of the double legend frame
fig.canvas.draw()
bb = leg.get_window_extent().transformed(fig.transFigure.inverted())
ix, iy = 3.0 / W, 3.0 / H
fig.add_artist(Rectangle((bb.x0 + ix, bb.y0 + iy), bb.width - 2 * ix, bb.height - 2 * iy,
                         transform=fig.transFigure, fill=False, edgecolor="#777777", lw=0.8))

fig.savefig("out.png", dpi=100)
